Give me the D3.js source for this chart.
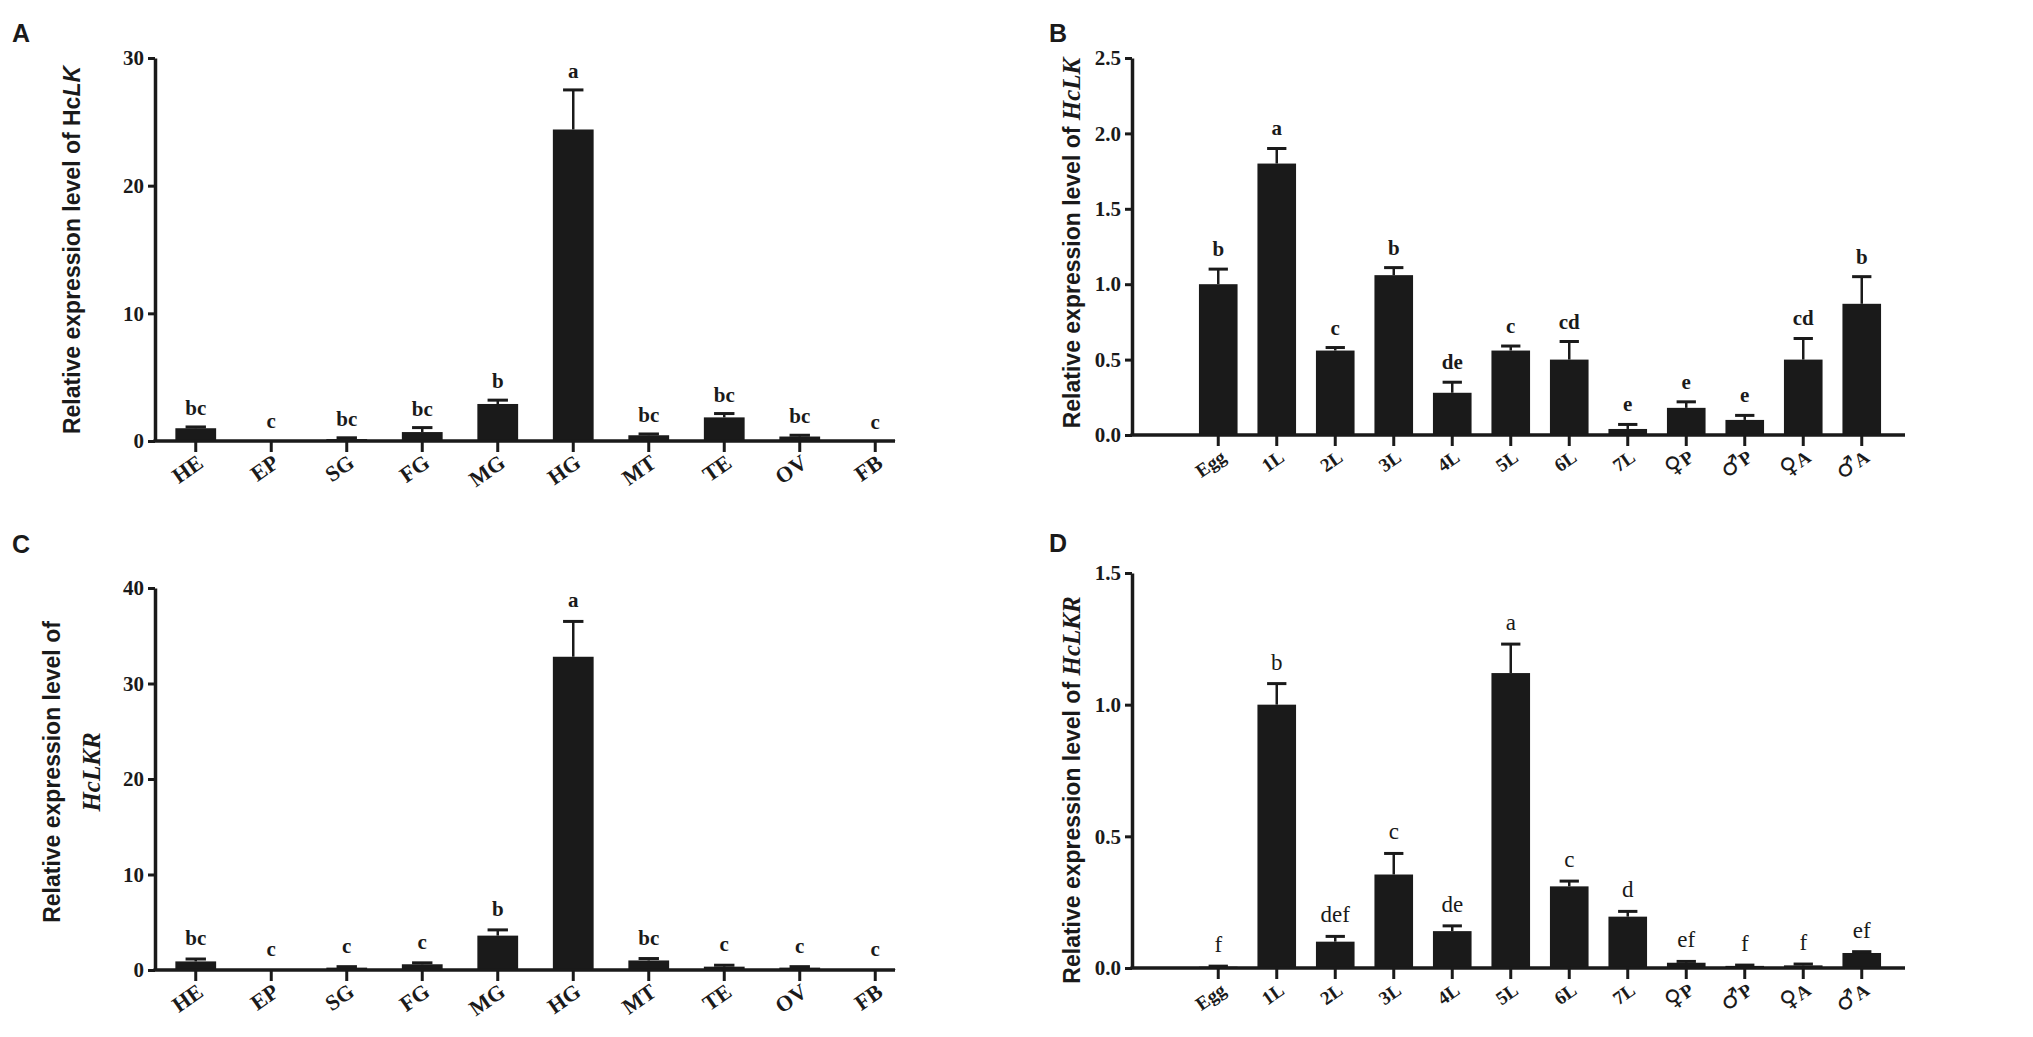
<!DOCTYPE html>
<html>
<head>
<meta charset="utf-8">
<script src="https://cdn.jsdelivr.net/npm/d3@7"></script>
<style>
  body { margin: 0; background: #fff; }
  svg { display: block; }
  .tick text { font-family: "Liberation Serif", "Times New Roman", serif; font-weight: bold; fill: #1a1a1a; }
</style>
</head>
<body>
<script>
// categories
const tissueCats = ["HE", "EP", "SG", "FG", "MG", "HG", "MT", "TE", "OV", "FB"];
const stageCats = ["Egg", "1L", "2L", "3L", "4L", "5L", "6L", "7L", "♀P", "♂P", "♀A", "♂A"];

// A: HcLK in tissues
const lkTissueMean = [1.0, 0.05, 0.15, 0.7, 2.9, 24.4, 0.45, 1.85, 0.35, 0.02];
const lkTissueErr  = [0.1, 0.0, 0.1, 0.35, 0.3, 3.1, 0.1, 0.3, 0.1, 0.0];
const lkTissueSig  = ["bc", "c", "bc", "bc", "b", "a", "bc", "bc", "bc", "c"];

// B: HcLK in stages
const lkStageMean = [1.0, 1.8, 0.56, 1.06, 0.28, 0.56, 0.5, 0.04, 0.18, 0.1, 0.5, 0.87];
const lkStageErr  = [0.1, 0.1, 0.02, 0.05, 0.07, 0.03, 0.12, 0.03, 0.04, 0.03, 0.14, 0.18];
const lkStageSig  = ["b", "a", "c", "b", "de", "c", "cd", "e", "e", "e", "cd", "b"];

// C: HcLKR in tissues
const lkrTissueMean = [0.9, 0.05, 0.25, 0.6, 3.6, 32.8, 1.0, 0.35, 0.25, 0.05];
const lkrTissueErr  = [0.25, 0.0, 0.1, 0.15, 0.6, 3.7, 0.2, 0.15, 0.1, 0.0];
const lkrTissueSig  = ["bc", "c", "c", "c", "b", "a", "bc", "c", "c", "c"];

// D: HcLKR in stages
const lkrStageMean = [0.005, 1.0, 0.1, 0.355, 0.14, 1.12, 0.31, 0.195, 0.02, 0.008, 0.01, 0.057];
const lkrStageErr  = [0.002, 0.08, 0.02, 0.08, 0.02, 0.11, 0.02, 0.02, 0.005, 0.003, 0.005, 0.005];
const lkrStageSig  = ["f", "b", "def", "c", "de", "a", "c", "d", "ef", "f", "f", "ef"];

const tissueTicks = [0, 10, 20, 30];
const lkStageTicks = [0, 0.5, 1.0, 1.5, 2.0, 2.5];
const lkrTissueTicks = [0, 10, 20, 30, 40];
const lkrStageTicks = [0, 0.5, 1.0, 1.5];

const svg = d3.select("body").append("svg")
    .attr("width", 2033)
    .attr("height", 1037);

const ink = "#1a1a1a";

function drawPanel(p) {
    const g = svg.append("g");
    const data = p.cats.map((c, i) => ({cat: c, v: p.mean[i], e: p.err[i], s: p.sig[i]}));

    const y = d3.scaleLinear().domain([0, p.ticks[p.ticks.length - 1]]).range([p.y0, p.yTop]);
    const x = d3.scaleBand().domain(p.cats)
        .range([p.bandStart, p.bandStart + p.step * p.cats.length])
        .paddingInner(p.pad).paddingOuter(p.pad / 2);

    // bars
    g.selectAll("rect.bar").data(data).enter()
        .append("rect")
        .attr("class", "bar")
        .attr("x", d => x(d.cat))
        .attr("y", d => y(d.v))
        .attr("width", x.bandwidth())
        .attr("height", d => y(0) - y(d.v))
        .attr("fill", ink);

    // error bars
    const cap = x.bandwidth() * 0.5;
    const eb = g.selectAll("g.err").data(data.filter(d => d.e > 0)).enter().append("g");
    eb.append("line")
        .attr("x1", d => x(d.cat) + x.bandwidth() / 2)
        .attr("x2", d => x(d.cat) + x.bandwidth() / 2)
        .attr("y1", d => y(d.v))
        .attr("y2", d => y(d.v + d.e))
        .attr("stroke", ink).attr("stroke-width", 2.5);
    eb.append("line")
        .attr("x1", d => x(d.cat) + x.bandwidth() / 2 - cap / 2)
        .attr("x2", d => x(d.cat) + x.bandwidth() / 2 + cap / 2)
        .attr("y1", d => y(d.v + d.e))
        .attr("y2", d => y(d.v + d.e))
        .attr("stroke", ink).attr("stroke-width", 3);

    // significance letters
    g.selectAll("text.sig").data(data).enter()
        .append("text")
        .attr("x", d => x(d.cat) + x.bandwidth() / 2)
        .attr("y", d => y(d.v + d.e) - p.sigGap)
        .attr("text-anchor", "middle")
        .style("font-family", "'Liberation Serif', serif")
        .style("font-weight", p.sigWeight)
        .style("font-size", p.sigSize + "px")
        .attr("fill", ink)
        .text(d => d.s);

    // y axis
    const yAxis = d3.axisLeft(y).tickValues(p.ticks).tickFormat(p.fmt).tickSize(7).tickSizeOuter(0).tickPadding(4);
    const ya = g.append("g").attr("transform", `translate(${p.axisX},0)`).call(yAxis);
    ya.select(".domain").attr("stroke", ink).attr("stroke-width", 3.5);
    ya.selectAll(".tick line").attr("stroke", ink).attr("stroke-width", 3);
    ya.selectAll(".tick text").style("font-size", "21px");

    // x axis
    g.append("line")
        .attr("x1", p.axisX - 1.5).attr("x2", p.axisEnd)
        .attr("y1", p.y0).attr("y2", p.y0)
        .attr("stroke", ink).attr("stroke-width", 3.5);
    const xAxis = d3.axisBottom(x).tickSize(11).tickSizeOuter(0);
    const xa = g.append("g").attr("transform", `translate(0,${p.y0})`).call(xAxis);
    xa.select(".domain").remove();
    xa.selectAll(".tick line").attr("stroke", ink).attr("stroke-width", 3);
    xa.selectAll(".tick text")
        .attr("y", 0).attr("dy", null)
        .attr("transform", "translate(9,25) rotate(-35)")
        .style("text-anchor", "end")
        .style("font-size", p.labelSize + "px")
        .each(function(d) {
            // enlarge the sex symbols
            if (/[♀♂]/.test(d)) {
                const el = d3.select(this).text(null);
                el.append("tspan").style("font-family", "'DejaVu Sans', sans-serif").style("font-size", "1.25em").text(d[0]);
                el.append("tspan").text(d.slice(1));
            }
        });

    // panel letter
    svg.append("text")
        .attr("x", p.letterX).attr("y", p.letterY)
        .style("font-family", "'Liberation Sans', Arial, sans-serif")
        .style("font-weight", "bold")
        .style("font-size", "25px")
        .attr("fill", ink)
        .text(p.letter);

    // y title
    const t = svg.append("text")
        .attr("transform", `translate(${p.titleX},${p.titleY}) rotate(-90)`)
        .attr("text-anchor", "middle")
        .style("font-family", "'Liberation Sans', Arial, sans-serif")
        .style("font-weight", "bold")
        .style("font-size", "23px")
        .attr("fill", ink);
    p.title(t);
}

drawPanel({
    letter: "A", letterX: 12, letterY: 42,
    cats: tissueCats, mean: lkTissueMean, err: lkTissueErr, sig: lkTissueSig,
    ticks: tissueTicks, fmt: d3.format("d"),
    axisX: 155, axisEnd: 895, bandStart: 158, step: 75.5, pad: 0.46, labelSize: 22,
    y0: 441, yTop: 58,
    sigGap: 12, sigSize: 21, sigWeight: "bold",
    titleX: 80, titleY: 250,
    title: t => {
        t.append("tspan").text("Relative expression level of Hc");
        t.append("tspan").style("font-style", "italic").text("LK");
    }
});

drawPanel({
    letter: "B", letterX: 1049, letterY: 42,
    cats: stageCats, mean: lkStageMean, err: lkStageErr, sig: lkStageSig,
    ticks: lkStageTicks, fmt: d3.format(".1f"),
    axisX: 1132, axisEnd: 1905, bandStart: 1189, step: 58.5, pad: 0.34, labelSize: 19,
    y0: 435, yTop: 58,
    sigGap: 13, sigSize: 21, sigWeight: "bold",
    titleX: 1080, titleY: 243,
    title: t => {
        t.append("tspan").text("Relative expression level of ");
        t.append("tspan").style("font-family", "'Liberation Serif', serif").style("font-style", "italic").style("font-size", "25px").text("HcLK");
    }
});

drawPanel({
    letter: "C", letterX: 12, letterY: 553,
    cats: tissueCats, mean: lkrTissueMean, err: lkrTissueErr, sig: lkrTissueSig,
    ticks: lkrTissueTicks, fmt: d3.format("d"),
    axisX: 155, axisEnd: 895, bandStart: 158, step: 75.5, pad: 0.46, labelSize: 22,
    y0: 970, yTop: 588,
    sigGap: 14, sigSize: 21, sigWeight: "bold",
    titleX: 60, titleY: 772,
    title: t => {
        t.append("tspan").attr("x", 0).text("Relative expression level of");
        t.append("tspan").attr("x", 0).attr("dy", "1.6em")
            .style("font-family", "'Liberation Serif', serif").style("font-style", "italic").style("font-size", "25px").text("HcLKR");
    }
});

drawPanel({
    letter: "D", letterX: 1049, letterY: 552,
    cats: stageCats, mean: lkrStageMean, err: lkrStageErr, sig: lkrStageSig,
    ticks: lkrStageTicks, fmt: d3.format(".1f"),
    axisX: 1132, axisEnd: 1905, bandStart: 1189, step: 58.5, pad: 0.34, labelSize: 19,
    y0: 968, yTop: 573,
    sigGap: 14, sigSize: 23, sigWeight: "normal",
    titleX: 1080, titleY: 790,
    title: t => {
        t.append("tspan").text("Relative expression level  of ");
        t.append("tspan").style("font-family", "'Liberation Serif', serif").style("font-style", "italic").style("font-size", "25px").text("HcLKR");
    }
});
</script>
</body>
</html>
